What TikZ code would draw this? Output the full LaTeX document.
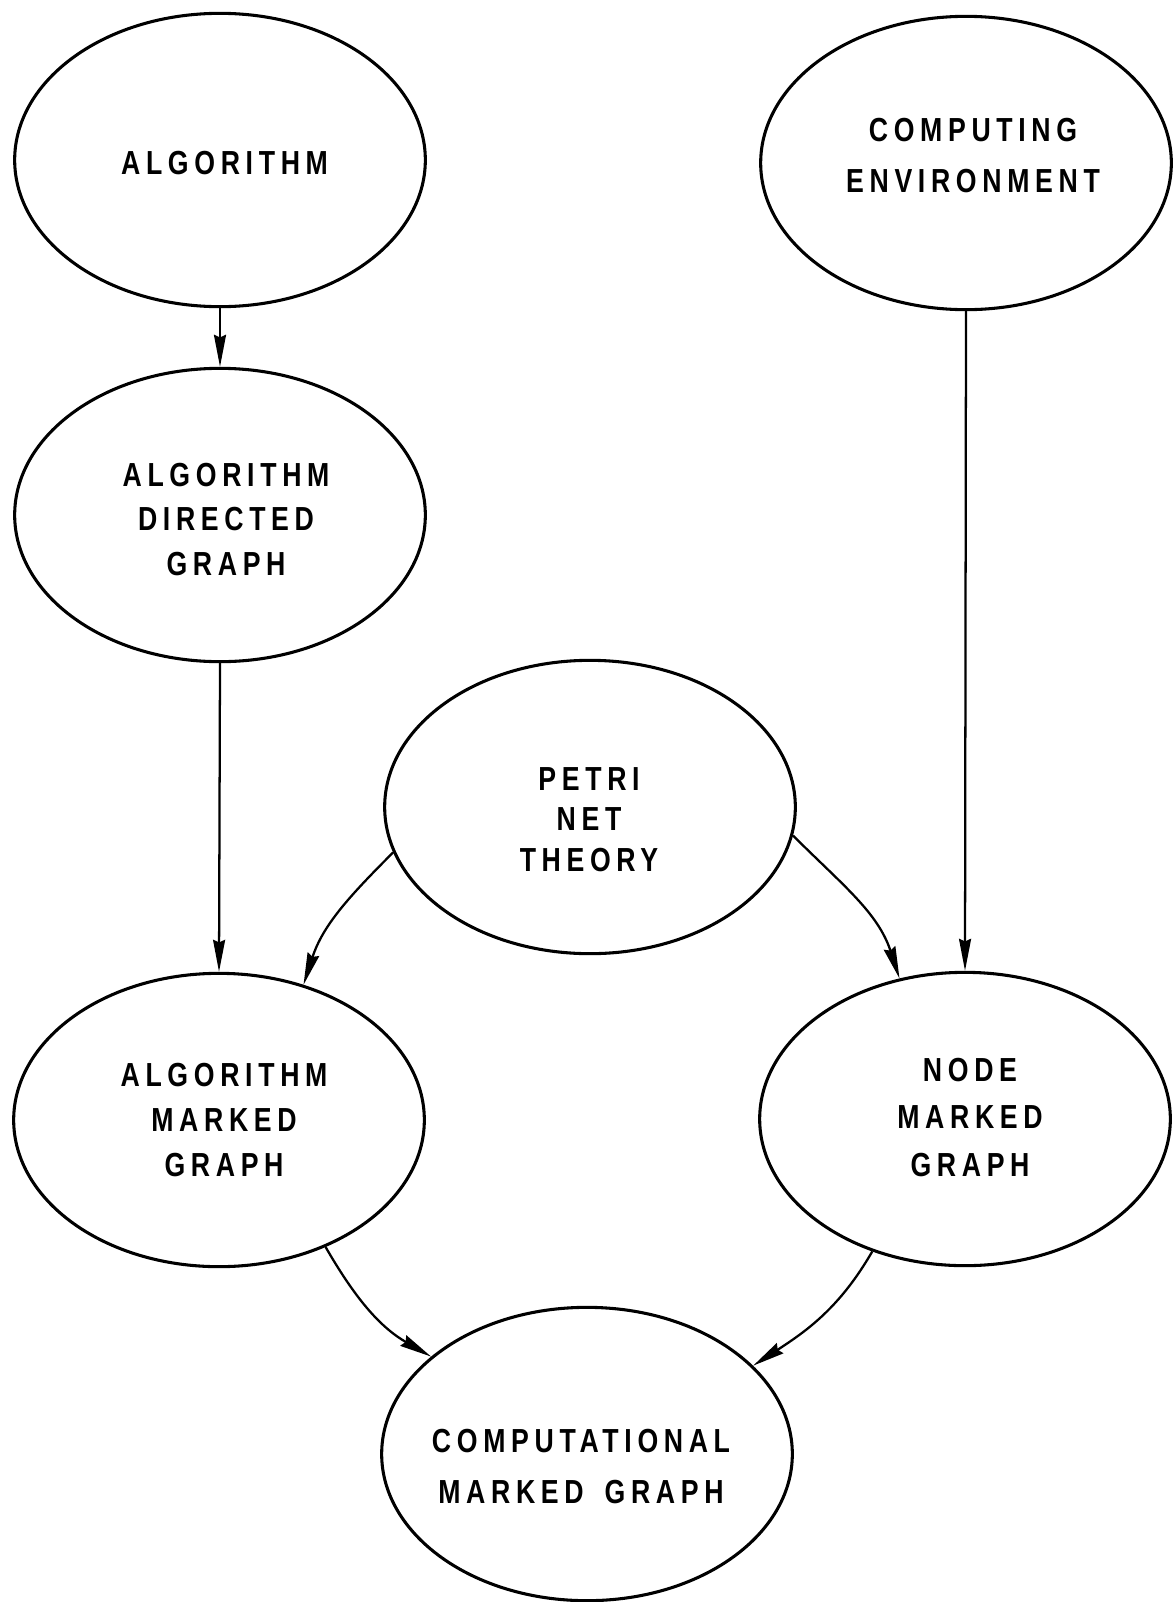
\documentclass[tikz,border=0pt]{standalone}
\usepackage{fontspec}
\usetikzlibrary{shapes.geometric,arrows.meta}
\newfontfamily\labfont[FakeStretch=0.8,LetterSpace=17,WordSpace=1.6]{Liberation Sans Bold}
\begin{document}
\begin{tikzpicture}[x=0.75pt,y=-0.75pt,
  ell/.style={draw,ellipse,line width=2.3pt,minimum width=308pt,minimum height=220pt,inner sep=0pt},
  txt/.style={font=\labfont\fontsize{25pt}{#1}\selectfont,align=center,inner sep=0pt},
  conn/.style={line width=1.7pt,-{Stealth[length=24pt,width=9pt,inset=2pt]}}]
\useasboundingbox (0,0) rectangle (1172,1602);
\node[ell] (alg) at (220,160) {};
\node[ell] (ce) at (966,163) {};
\node[ell] (adg) at (220,515) {};
\node[ell] (petri) at (590,807) {};
\node[ell] (amg) at (219,1120) {};
\node[ell] (nmg) at (965,1119) {};
\node[ell] (comp) at (587,1454) {};
\node[txt=30pt] (alg-t) at (224.5,163) {ALGORITHM};
\node[txt=38.25pt] (ce-t) at (973,155.5) {COMPUTING\\ENVIRONMENT};
\node[txt=33.4pt] (adg-t) at (226,519.5) {ALGORITHM\\DIRECTED\\GRAPH};
\node[txt=30.4pt] (petri-t) at (589,819.5) {PETRI\\NET\\THEORY};
\node[txt=33.75pt] (amg-t) at (224,1120) {ALGORITHM\\MARKED\\GRAPH};
\node[txt=35.6pt] (nmg-t) at (970,1117.5) {NODE\\MARKED\\GRAPH};
\node[txt=38.25pt] (comp-t) at (581,1466.5) {COMPUTATIONAL\\MARKED GRAPH};
\draw[conn] (alg.south) -- (adg.north);
\draw[conn] (adg.south) -- (amg.north);
\draw[conn] (ce.south) -- (nmg.north);
\draw[conn] (petri.193) to[out=225,in=72] (amg.58);
\draw[conn] (petri.352) to[out=-45,in=108] (nmg.115);
\draw[conn] (amg.-50) to[out=-60,in=150] (comp.148);
\draw[conn] (nmg.235) to[out=-120,in=33] (comp.28);
\end{tikzpicture}
\end{document}
